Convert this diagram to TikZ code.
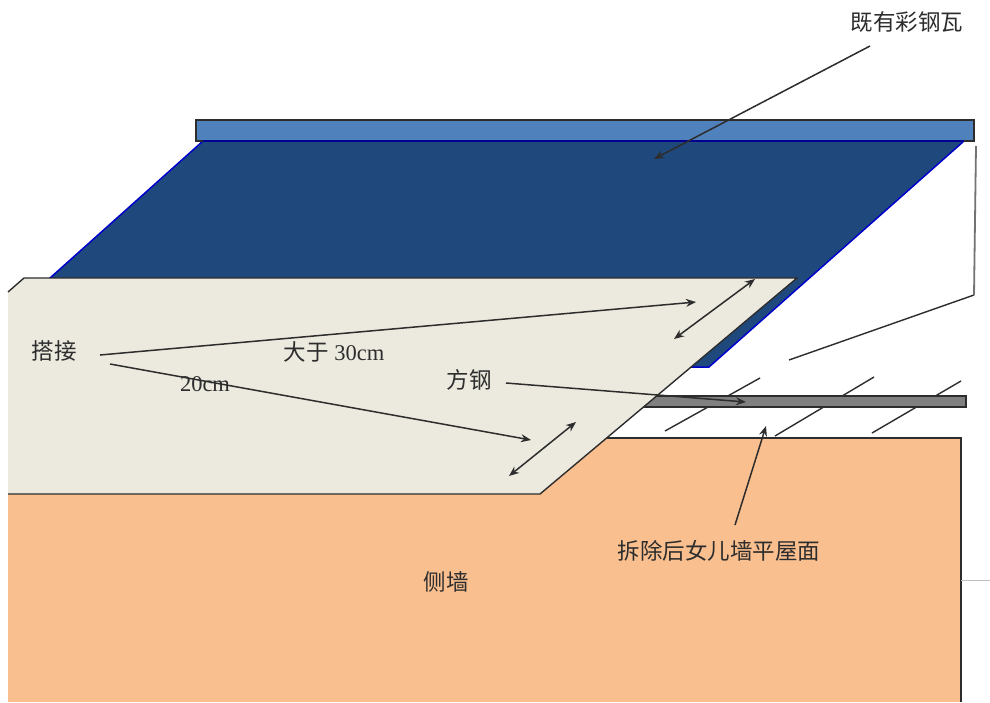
\documentclass[tikz,border=0pt]{standalone}
\usepackage{fontspec}
\setmainfont{Liberation Serif}
\newfontfamily\cjk{Noto Sans CJK SC}
\usetikzlibrary{arrows.meta}
\definecolor{tileblue}{RGB}{31,73,125}
\definecolor{capblue}{RGB}{79,129,189}
\definecolor{linerbeige}{RGB}{236,234,223}
\definecolor{wallorange}{RGB}{250,191,143}
\definecolor{edgeblue}{RGB}{0,0,205}
\definecolor{inkgray}{RGB}{45,45,45}
\begin{document}
\begin{tikzpicture}[x=1pt,y=-1pt,>={Stealth[length=10pt,width=8pt]}]
    \tikzset{
      lbl/.style={font=\fontsize{22.5}{25}\selectfont,inner sep=0pt,text=inkgray},
      ptr/.style={inkgray,line width=1.5pt},
      bar/.style={inkgray,line width=1.4pt}
    }
    \useasboundingbox (0,0) rectangle (990,702);
    \fill[white] (0,0) rectangle (990,702);

    % wall, roof, cap
    \fill[wallorange] (8,702) -- (8,438) -- (961,438) -- (961,702) -- cycle;
    \draw[inkgray,line width=1.4pt] (8,438) -- (961,438) -- (961,702);
    \draw[black!25,line width=0.8pt] (961,580) -- (990,580);
    \draw[edgeblue,line width=1.5pt,fill=tileblue] (203,141) -- (964,141) -- (709,367) -- (690,367) -- (50,278) -- cycle;
    \draw[inkgray,line width=1.4pt,fill=capblue] (196,120) rectangle (974,141);
    \draw[edgeblue!70!black,line width=1.6pt] (203,141) -- (964,141);

    % hatch on the flat roof
    \coordinate (h1a) at (665,431); \coordinate (h1b) at (760,378);
    \coordinate (h2a) at (775,436); \coordinate (h2b) at (874,377);
    \coordinate (h3a) at (872,433); \coordinate (h3b) at (961,381);
    \draw[bar] (h1a) -- (h1b);
    \draw[bar] (h2a) -- (h2b);
    \draw[bar] (h3a) -- (h3b);
    \coordinate (e1) at (976,146); \coordinate (e2) at (974,295); \coordinate (e3) at (789,360);
    \draw[bar] (e2) -- (e3);
    \draw[black!55,line width=1.8pt] (e1) -- (e2);

    \draw[inkgray,line width=1.3pt,fill=black!50] (640,396) rectangle (966,407);
    \fill[linerbeige] (8,292) -- (24,278) -- (797,278) -- (540,494) -- (8,494) -- cycle;
    \draw[inkgray,line width=1.4pt] (8,292) -- (24,278) -- (797,278) -- (540,494) -- (8,494);

    % labels
    \node[lbl] (tile) at (907,22) {\cjk 既有彩钢瓦};
    \node[lbl] (lap) at (54,351) {\cjk 搭接};
    \node[lbl] (over) at (334,352) {{\cjk 大于} 30cm};
    \node[lbl] (twenty) at (205,384) {20cm};
    \node[lbl] (steel) at (469,380) {\cjk 方钢};
    \node[lbl] (flat) at (719,551) {\cjk 拆除后女儿墙平屋面};
    \node[lbl] (side) at (446,582) {\cjk 侧墙};

    % pointers
    \coordinate (t1) at (870,46); \coordinate (t2) at (654,159);
    \draw[->,ptr] (t1) -- (t2);
    \coordinate (a1) at (100,355); \coordinate (a2) at (696,302);
    \draw[->,ptr] (a1) -- (a2);
    \coordinate (b1) at (110,364); \coordinate (b2) at (531,440);
    \draw[->,ptr] (b1) -- (b2);
    \coordinate (c1) at (506,383); \coordinate (c2) at (746,402);
    \draw[->,ptr] (c1) -- (c2);
    \coordinate (d1) at (735,525); \coordinate (d2) at (766,426);
    \draw[->,ptr] (d1) -- (d2);
    \coordinate (f1) at (674,339); \coordinate (f2) at (755,279);
    \draw[<->,ptr] (f1) -- (f2);
    \coordinate (g1) at (509,476); \coordinate (g2) at (576,422);
    \draw[<->,ptr] (g1) -- (g2);
\end{tikzpicture}
\end{document}
